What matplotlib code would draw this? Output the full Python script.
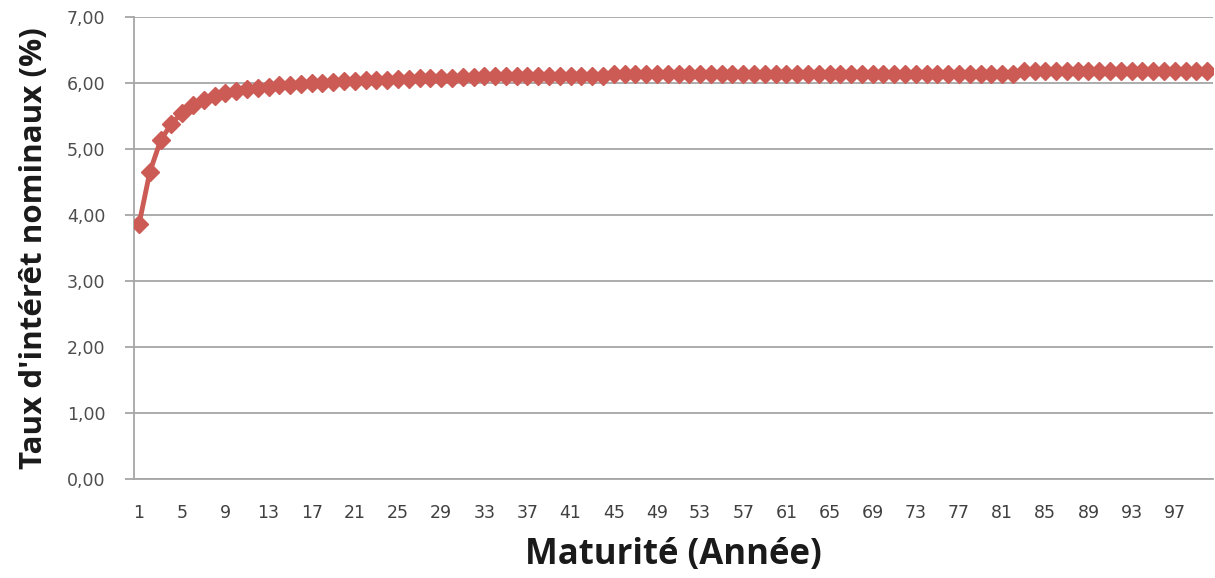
import matplotlib.pyplot as plt
import numpy as np

plt.rcParams['font.family'] = ['DejaVu Sans']

# maturity in years, 1..100
maturite = list(range(1, 101))
taux = [3.86, 4.65, 5.13, 5.38, 5.55, 5.66, 5.74, 5.80, 5.84, 5.87,
        5.90, 5.92, 5.94, 5.96, 5.97, 5.98, 5.99, 6.00, 6.01, 6.02,
        6.03, 6.04, 6.05, 6.05, 6.06, 6.06, 6.07, 6.07, 6.08, 6.08,
        6.09, 6.09, 6.10, 6.10, 6.10, 6.10, 6.10, 6.10, 6.10, 6.10,
        6.10, 6.10, 6.10, 6.10, 6.14, 6.14, 6.14, 6.14, 6.14, 6.14,
        6.14, 6.14, 6.14, 6.14, 6.14, 6.14, 6.14, 6.14, 6.14, 6.14,
        6.14, 6.14, 6.14, 6.14, 6.14, 6.14, 6.14, 6.14, 6.14, 6.14,
        6.14, 6.14, 6.14, 6.14, 6.14, 6.14, 6.14, 6.14, 6.14, 6.14,
        6.14, 6.14, 6.18, 6.18, 6.18, 6.18, 6.18, 6.18, 6.18, 6.18,
        6.18, 6.18, 6.18, 6.18, 6.18, 6.18, 6.18, 6.18, 6.18, 6.18]
yticks = [0, 1, 2, 3, 4, 5, 6, 7]
ytick_labels = ['0,00', '1,00', '2,00', '3,00', '4,00', '5,00', '6,00', '7,00']
xtick_labels = [str(m) for m in maturite[::4]]

fig = plt.figure(figsize=(12.15, 5.78), dpi=100)
ax = fig.add_axes([0.110, 0.171, 0.888, 0.800])

x = np.arange(len(maturite))
ax.plot(x, taux, color='#cd5b55', lw=3.5, marker='D', ms=9.5, mec='#cd5b55', zorder=3)

ax.set_xlim(-0.5, len(maturite) - 0.5)
ax.set_ylim(0, 7)
ax.set_yticks(yticks)
ax.set_yticklabels(ytick_labels)
ax.set_xticks(x[::4])
ax.set_xticklabels(xtick_labels)

ax.grid(axis='y', color='#a6a6a6', lw=1.3)
ax.set_axisbelow(True)
for s in ['top', 'right']:
    ax.spines[s].set_visible(False)
for s in ['left', 'bottom']:
    ax.spines[s].set_color('#a6a6a6')
    ax.spines[s].set_linewidth(1.3)
ax.tick_params(axis='y', length=6.5, color='#a6a6a6', width=1.3, pad=14,
               labelsize=12.5, labelcolor='#4d4d4d')
ax.tick_params(axis='x', length=0, pad=18, labelsize=12.5, labelcolor='#404040')

ax.set_xlabel('Maturité (Année)', fontsize=25, fontweight='bold',
              family='Open Sans', color='#1a1a1a')
ax.set_ylabel("Taux d'intérêt nominaux (%)", fontsize=22.5, fontweight='bold',
              family='Open Sans', color='#1a1a1a')
ax.xaxis.set_label_coords(0.5, -0.125)
ax.yaxis.set_label_coords(-0.078, 0.5)

fig.savefig('out.png', dpi=100)
